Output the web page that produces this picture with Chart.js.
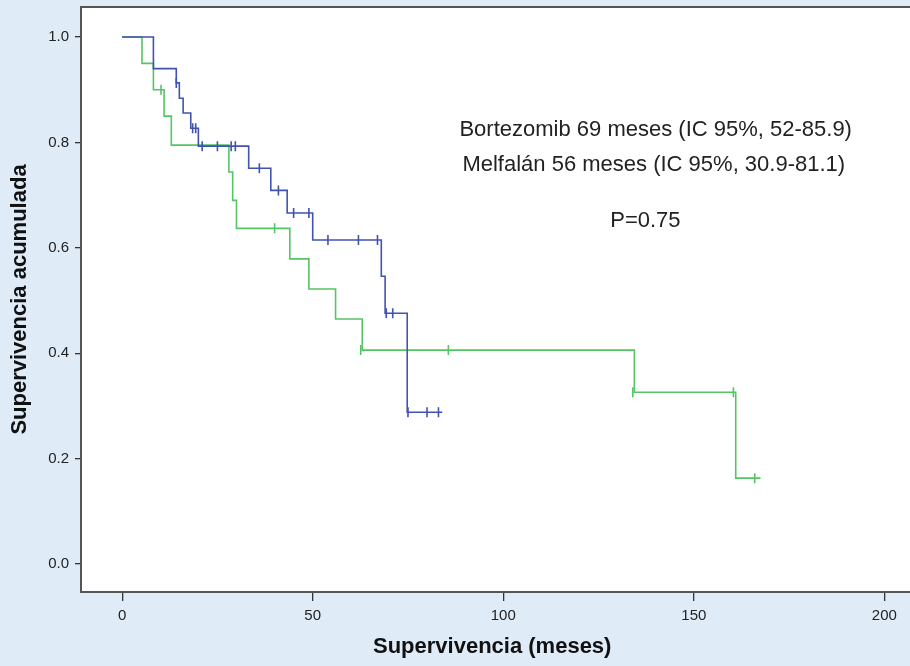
<!DOCTYPE html>
<html>
<head>
<meta charset="utf-8">
<script src="https://cdn.jsdelivr.net/npm/chart.js@4/dist/chart.umd.min.js"></script>
<style>
  html, body { margin: 0; padding: 0; background: #e0ebf8; }
  canvas { display: block; }
</style>
</head>
<body>
<canvas id="kmChart" width="910" height="666"></canvas>
<script>
// Kaplan-Meier: Bortezomib vs Melfalan

// Bortezomib (blue) - event times and survival after each step
let bortTimes = [0, 8.2, 14.2, 15, 16, 18, 20, 33.2, 39, 43.3, 50, 68, 69, 74.8, 84];
let bortSurv  = [1.0, 0.94, 0.913, 0.884, 0.856, 0.827, 0.793, 0.751, 0.709, 0.666, 0.615, 0.546, 0.476, 0.288, 0.288];
let bortCensTimes = [14.2, 18.5, 19.3, 21, 25, 28.6, 29.7, 36, 41, 45, 49, 54, 62, 67, 69.3, 71, 75, 80, 83];
let bortCensSurv  = [0.913, 0.827, 0.827, 0.793, 0.793, 0.793, 0.793, 0.751, 0.709, 0.666, 0.666, 0.615, 0.615, 0.615, 0.476, 0.476, 0.288, 0.288, 0.288];

// Melfalan (green)
let melfTimes = [0, 5.2, 8.2, 11, 12.9, 28, 29, 30, 44, 49, 56, 63, 134.4, 161, 167.5];
let melfSurv  = [1.0, 0.95, 0.90, 0.85, 0.795, 0.744, 0.69, 0.637, 0.579, 0.522, 0.465, 0.406, 0.326, 0.163, 0.163];
let melfCensTimes = [10.2, 40, 62.6, 85.6, 134, 160.4, 166];
let melfCensSurv  = [0.90, 0.637, 0.406, 0.406, 0.326, 0.326, 0.163];

// axis ticks
let xTickValues = [0, 50, 100, 150, 200];
let yTickValues = [0, 0.2, 0.4, 0.6, 0.8, 1.0];

// text in the plot
let noteLines = ["Bortezomib 69 meses (IC 95%, 52-85.9)", "Melfalán 56 meses (IC 95%, 30.9-81.1)", "P=0.75"];
let noteX = [140, 139.5, 137.3];
let noteY = [0.823, 0.757, 0.651];

const BLUE = "#4152b0";
const GREEN = "#55c464";

function toPoints(xs, ys){
    let pts = [];
    for(let i=0; i<xs.length; i++){
        pts.push({x: xs[i], y: ys[i]});
    }
    return pts;
}

// white plot area + box + notes
const plotBox = {
    id: "plotBox",
    beforeDraw(chart){
        let c = chart.ctx;
        let a = chart.chartArea;
        c.save();
        c.fillStyle = "#e0ebf8";
        c.fillRect(0, 0, chart.width, chart.height);
        c.fillStyle = "#ffffff";
        c.fillRect(a.left, a.top, a.right - a.left + 10, a.bottom - a.top);
        c.restore();
    },
    afterDraw(chart){
        let c = chart.ctx;
        let a = chart.chartArea;
        c.save();
        c.strokeStyle = "#555555";
        c.lineWidth = 2;
        c.beginPath();
        c.moveTo(a.right + 10, a.top);
        c.lineTo(a.left, a.top);
        c.lineTo(a.left, a.bottom);
        c.lineTo(a.right + 10, a.bottom);
        c.stroke();

        c.fillStyle = "#222222";
        c.font = '22px "Liberation Sans", Arial, sans-serif';
        c.textAlign = "center";
        c.textBaseline = "middle";
        for(let i=0; i<noteLines.length; i++){
            let px = chart.scales.x.getPixelForValue(noteX[i]);
            let py = chart.scales.y.getPixelForValue(noteY[i]);
            c.fillText(noteLines[i], px, py);
        }
        c.restore();
    }
};

let ctx = document.getElementById("kmChart").getContext("2d");

let chart = new Chart(ctx, {
    type: "line",
    data: {
        datasets: [
            {
                label: "Bortezomib",
                data: toPoints(bortTimes, bortSurv),
                borderColor: BLUE,
                borderWidth: 1.6,
                stepped: true,
                pointRadius: 0,
                fill: false
            },
            {
                label: "Bortezomib censurado",
                type: "scatter",
                data: toPoints(bortCensTimes, bortCensSurv),
                borderColor: BLUE,
                backgroundColor: BLUE,
                borderWidth: 1.6,
                pointStyle: "line",
                rotation: 90,
                pointRadius: 5
            },
            {
                label: "Melfalán",
                data: toPoints(melfTimes, melfSurv),
                borderColor: GREEN,
                borderWidth: 1.6,
                stepped: true,
                pointRadius: 0,
                fill: false
            },
            {
                label: "Melfalán censurado",
                type: "scatter",
                data: toPoints(melfCensTimes, melfCensSurv),
                borderColor: GREEN,
                backgroundColor: GREEN,
                borderWidth: 1.6,
                pointStyle: "line",
                rotation: 90,
                pointRadius: 5
            }
        ]
    },
    options: {
        responsive: false,
        animation: false,
        layout: { padding: { top: 7, right: 0, left: 0, bottom: 0 } },
        plugins: {
            legend: { display: false },
            tooltip: { enabled: false }
        },
        scales: {
            x: {
                type: "linear",
                min: -10.8,
                max: 205,
                afterBuildTicks: function(s){ s.ticks = xTickValues.map(v => ({value: v})); },
                afterFit: function(s){ s.height = 74; s.paddingLeft = 0; s.paddingRight = 0; },
                grid: { drawOnChartArea: false, drawTicks: true, tickLength: 9, color: "#333333", lineWidth: 1.3 },
                border: { display: false },
                ticks: {
                    color: "#222222",
                    padding: 6,
                    maxRotation: 0,
                    font: { family: '"Liberation Sans", Arial, sans-serif', size: 15 },
                    callback: function(v){ return String(v); }
                },
                title: {
                    display: true,
                    text: "Supervivencia (meses)",
                    color: "#111111",
                    padding: { top: 0, bottom: 6 },
                    font: { family: '"Liberation Sans", Arial, sans-serif', size: 22, weight: "bold" }
                }
            },
            y: {
                min: -0.053,
                max: 1.057,
                afterBuildTicks: function(s){ s.ticks = yTickValues.map(v => ({value: v})); },
                afterFit: function(s){ s.width = 81; s.paddingTop = 0; s.paddingBottom = 0; },
                grid: { drawOnChartArea: false, drawTicks: true, tickLength: 6, color: "#333333", lineWidth: 1.3 },
                border: { display: false },
                ticks: {
                    color: "#222222",
                    padding: 6,
                    font: { family: '"Liberation Sans", Arial, sans-serif', size: 15 },
                    callback: function(v){ return Number(v).toFixed(1); }
                },
                title: {
                    display: true,
                    text: "Supervivencia acumulada",
                    color: "#111111",
                    padding: { top: 7, bottom: 0 },
                    font: { family: '"Liberation Sans", Arial, sans-serif', size: 22, weight: "bold" }
                }
            }
        }
    },
    plugins: [plotBox]
});
</script>
</body>
</html>
